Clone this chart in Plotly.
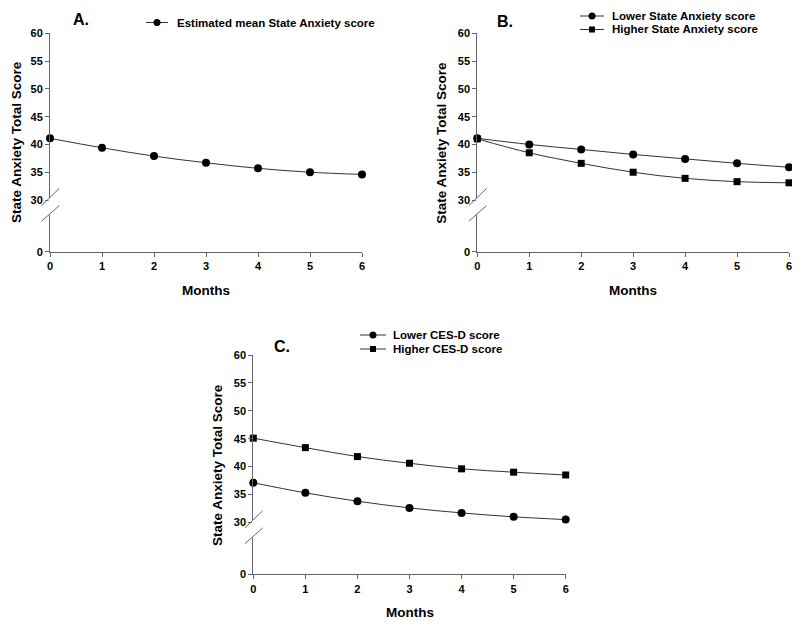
import plotly.graph_objects as go

months = [0, 1, 2, 3, 4, 5, 6]
ytick_vals_real = [0, 30, 35, 40, 45, 50, 55, 60]
ytick_labels = ["0", "30", "35", "40", "45", "50", "55", "60"]
BREAK_POS = 20.7  # position on the broken axis where the "0" tick sits

# Panel A
mean_state = [41.1, 39.4, 37.9, 36.7, 35.7, 35.0, 34.6]
# Panel B
lower_state = [41.1, 40.0, 39.1, 38.2, 37.4, 36.6, 35.9]
higher_state = [41.0, 38.5, 36.6, 35.0, 33.9, 33.3, 33.1]
# Panel C
lower_cesd = [37.1, 35.3, 33.8, 32.6, 31.7, 31.0, 30.5]
higher_cesd = [45.1, 43.4, 41.8, 40.6, 39.6, 39.0, 38.5]

names_a = ["Estimated mean State Anxiety score"]
names_b = ["Lower State Anxiety score", "Higher State Anxiety score"]
names_c = ["Lower CES-D score", "Higher CES-D score"]
panel_labels = ["A.", "B.", "C."]
x_title = "Months"
y_title = "State Anxiety Total Score"

# page body has an 8px margin: the figure is placed at (8, 8)
OFF = 8
W, H = 800 - OFF, 626 - OFF
FONT = "Liberation Sans, Arial, sans-serif"
LINE_COL = "#333333"
AXIS_COL = "#666666"

def px(x):
    return (x - OFF) / W

def py(y):
    return 1 - (y - OFF) / H

# screen-pixel layout of each panel: (x0px, x6px, y60px, y0px)
panels = {
    "A": (50, 362, 33.3, 251.7),
    "B": (477.3, 789, 33.3, 251.7),
    "C": (253.3, 565.7, 355, 574.3),
}

fig = go.Figure()

def tick_pos():
    return [BREAK_POS if v == 0 else v for v in ytick_vals_real]

axis_ids = {"A": ("x", "y", ""), "B": ("x2", "y2", "2"), "C": ("x3", "y3", "3")}
title_font = dict(family=FONT, size=13.5, color="black", weight="bold")
tick_font = dict(family=FONT, size=11, color="black", weight="bold")

for key, (x0p, x6p, y60p, y0p) in panels.items():
    xa, ya, suf = axis_ids[key]
    fig.update_layout(**{
        "xaxis" + suf: dict(
            domain=[px(x0p), px(x6p)], range=[0, 6], anchor=ya, tickvals=months,
            ticks="outside", ticklen=4, tickcolor=AXIS_COL, showline=True,
            linecolor=AXIS_COL, linewidth=1, showgrid=False, zeroline=False,
            tickfont=tick_font,
        ),
        "yaxis" + suf: dict(
            domain=[py(y0p), py(y60p)], range=[BREAK_POS, 60], anchor=xa,
            tickvals=tick_pos(), ticktext=ytick_labels,
            ticks="outside", ticklen=4, tickcolor=AXIS_COL, showline=True,
            linecolor=AXIS_COL, linewidth=1, showgrid=False, zeroline=False,
            tickfont=tick_font,
        ),
    })
    # hide axis line across the break and draw the break marks
    fig.add_shape(type="line", xref=xa + " domain", yref=ya, x0=0, x1=0,
                  y0=27.3, y1=30.3, line=dict(color="white", width=3), layer="above")
    for (ya0, ya1) in [(29.0, 32.1), (26.2, 29.0)]:
        fig.add_shape(type="line", xref=xa + " domain", yref=ya,
                      x0=-0.027, x1=0.03, y0=ya0, y1=ya1,
                      line=dict(color=AXIS_COL, width=1), layer="above")
    # axis titles
    fig.add_annotation(text=y_title, xref="paper", yref=ya + " domain",
                       x=px(max(x0p - 36, 16.5)), y=0.5, xanchor="center", yanchor="middle",
                       textangle=-90, showarrow=False, font=title_font, borderpad=0)
    fig.add_annotation(text=x_title, xref=xa + " domain", yref="paper",
                       x=0.5, y=py(y0p + 38.5), xanchor="center", yanchor="middle",
                       showarrow=False, font=title_font)

def add_series(y, name, symbol, xa, ya):
    fig.add_trace(go.Scatter(
        x=months, y=y, name=name, mode="lines+markers", xaxis=xa, yaxis=ya,
        showlegend=False, cliponaxis=False,
        line=dict(color=LINE_COL, width=1, shape="spline", smoothing=1),
        marker=dict(symbol=symbol, size=8 if symbol == "circle" else 7, color="black"),
    ))

add_series(mean_state, names_a[0], "circle", "x", "y")
add_series(lower_state, names_b[0], "circle", "x2", "y2")
add_series(higher_state, names_b[1], "square", "x2", "y2")
add_series(lower_cesd, names_c[0], "circle", "x3", "y3")
add_series(higher_cesd, names_c[1], "square", "x3", "y3")

# hand-drawn legends (line swatch + marker + label), screen pixels
leg_font = dict(family=FONT, size=11.5, color="black", weight="bold")

def legend_entry(name, symbol, x_line0, x_line1, x_text, yc):
    fig.add_shape(type="line", xref="paper", yref="paper",
                  x0=px(x_line0), x1=px(x_line1), y0=py(yc), y1=py(yc),
                  line=dict(color=LINE_COL, width=1))
    xm = (x_line0 + x_line1) / 2
    r = 3.5 if symbol == "circle" else 3
    fig.add_shape(type="circle" if symbol == "circle" else "rect",
                  xref="paper", yref="paper",
                  x0=px(xm - r), x1=px(xm + r), y0=py(yc + r), y1=py(yc - r),
                  fillcolor="black", line=dict(width=0))
    fig.add_annotation(text=name, xref="paper", yref="paper", x=px(x_text), y=py(yc),
                       xanchor="left", yanchor="middle", showarrow=False,
                       font=leg_font, borderpad=0)

legend_entry(names_a[0], "circle", 146, 168, 176, 22.5)
legend_entry(names_b[0], "circle", 580, 604, 611, 16)
legend_entry(names_b[1], "square", 580, 604, 611, 29.5)
legend_entry(names_c[0], "circle", 360, 386, 392, 335)
legend_entry(names_c[1], "square", 360, 386, 392, 349)

label_pos = [(81, 19.7), (504.5, 22), (281.7, 346)]
for txt, (lx, ly) in zip(panel_labels, label_pos):
    fig.add_annotation(text=txt, xref="paper", yref="paper", x=px(lx), y=py(ly),
                       xanchor="center", yanchor="middle", showarrow=False,
                       font=dict(family=FONT, size=16, color="black", weight="bold"))

fig.update_layout(
    width=W, height=H, margin=dict(l=0, r=0, t=0, b=0, autoexpand=False),
    paper_bgcolor="white", plot_bgcolor="white", showlegend=False,
)

fig.write_html("out.html")
